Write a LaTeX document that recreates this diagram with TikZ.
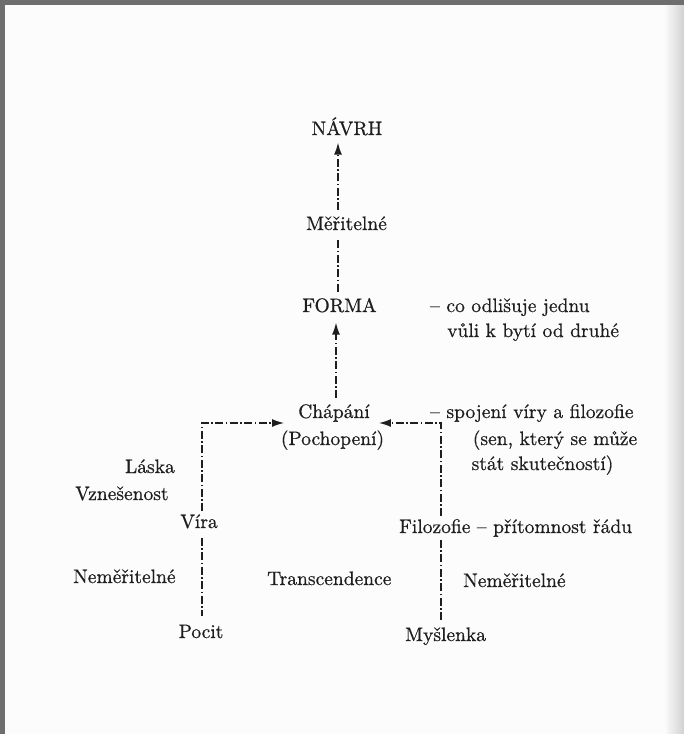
\documentclass[tikz,border=0pt]{standalone}
\usepackage{fontspec}
\setmainfont{lmroman10-regular.otf}[FakeBold=0.6]
\usetikzlibrary{arrows.meta}
\definecolor{ink}{HTML}{1E1E1E}
\definecolor{paper}{HTML}{FCFCFC}
\definecolor{rim}{HTML}{6E6E6E}
\begin{document}
\begin{tikzpicture}[x=1pt,y=-1pt,
  txt/.style={inner sep=0pt, text=ink, font=\fontsize{19.5}{22}\selectfont},
  dd/.style={draw=ink, line width=1.4pt, dash pattern=on 8pt off 2.5pt on 1.5pt off 2.5pt},
  arr/.style={dd, -{Latex[length=12pt,width=8pt]}}]
\useasboundingbox (0,0) rectangle (684,734);
\fill[paper] (0,0) rectangle (684,734);
\shade[left color=paper, right color=black!18] (664,0) rectangle (684,734);
\fill[rim] (0,0) rectangle (684,5);
\fill[rim] (0,0) rectangle (5,734);

% texts
\node[txt,anchor=base] (navrh) at (347,135) {NÁVRH};
\node[txt,anchor=base] (mer) at (346.5,230) {Měřitelné};
\node[txt,anchor=base] (forma) at (339.5,312) {FORMA};
\node[txt,anchor=base west] (co1) at (430,312) {– co odlišuje jednu};
\node[txt,anchor=base west] (co2) at (447,337) {vůli k bytí od druhé};
\node[txt,anchor=base] (chap) at (334,418) {Chápání};
\node[txt,anchor=base] (poch) at (332.5,445) {(Pochopení)};
\node[txt,anchor=base west] (sp1) at (430,418) {– spojení víry a filozofie};
\node[txt,anchor=base] (sp2) at (555,445) {(sen, který se může};
\node[txt,anchor=base] (sp3) at (542.5,470) {stát skutečností)};
\node[txt,anchor=base east] (laska) at (175,473) {Láska};
\node[txt,anchor=base west] (vzn) at (75,500) {Vznešenost};
\node[txt,anchor=base] (vira) at (199,528) {Víra};
\node[txt,anchor=base west] (nm1) at (73,583) {Neměřitelné};
\node[txt,anchor=base west] (tr) at (267,585) {Transcendence};
\node[txt,anchor=base] (pocit) at (201,638) {Pocit};
\node[txt,anchor=base west] (filo) at (399,533) {Filozofie – přítomnost řádu};
\node[txt,anchor=base west] (nm2) at (463,587) {Neměřitelné};
\node[txt,anchor=base west] (mys) at (405,641) {Myšlenka};

% guide coordinates
\coordinate (cl) at (202,423);
\coordinate (cr) at (441,423);
\coordinate (ax) at (338,0);
\coordinate (bx) at (336,0);

% connectors
\draw[arr] ([yshift=6pt]mer.north -| ax) -- ([yshift=-7pt]navrh.south -| ax);
\draw[dd] ([yshift=-10pt]mer.south -| ax) -- ([yshift=4pt]forma.north -| ax);
\draw[arr] ([yshift=6pt]chap.north -| bx) -- ([yshift=-10pt]forma.south -| bx);
\draw[arr] ([yshift=3pt]vira.north -| cl) -- (cl) -- ([xshift=-14pt]chap.west |- cl);
\draw[dd] ([yshift=-9pt]vira.south -| cl) -- ([yshift=8pt]pocit.north -| cl);
\draw[arr] ([yshift=3pt]filo.north -| cr) -- (cr) -- ([xshift=9pt]chap.east |- cr);
\draw[dd] ([yshift=-3pt]filo.south -| cr) -- ([yshift=6pt]mys.north -| cr);
\end{tikzpicture}
\end{document}
